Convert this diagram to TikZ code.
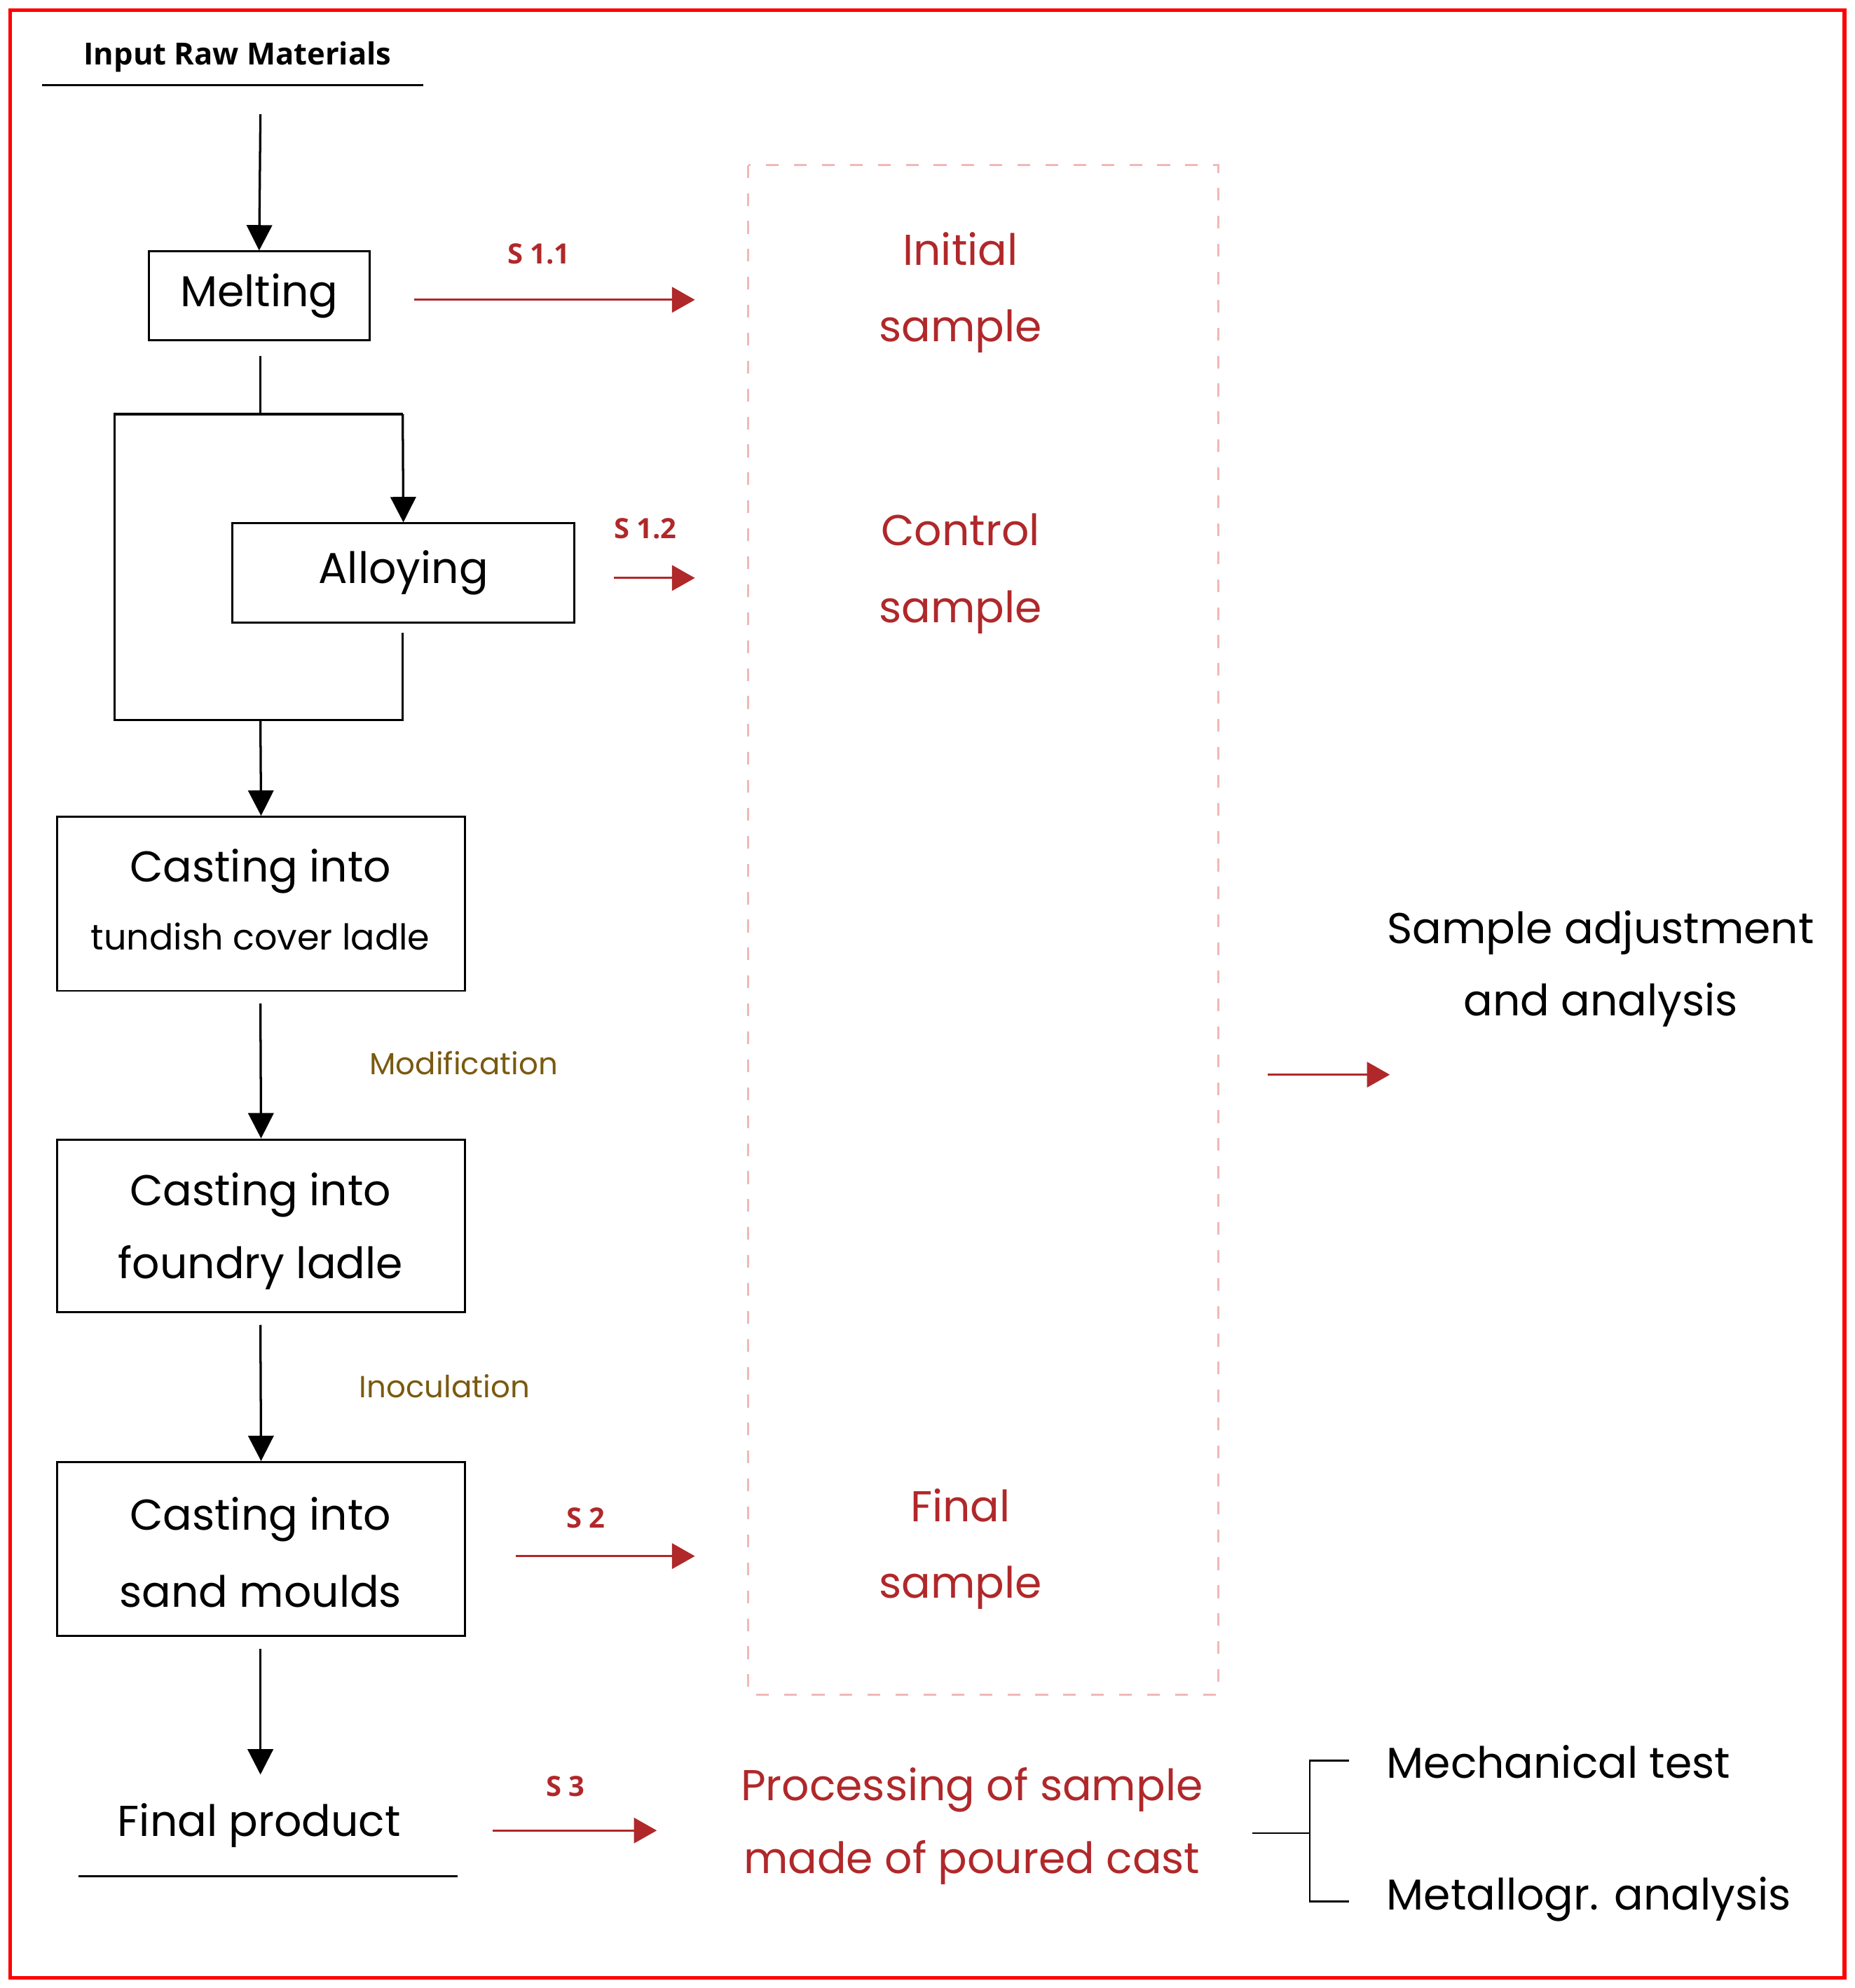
\documentclass[tikz,border=0pt]{standalone}
\usepackage{fontspec}
\setmainfont{Poppins}
\newfontfamily\lab{Open Sans}
\usetikzlibrary{arrows.meta}
\definecolor{dred}{HTML}{B0282A}
\definecolor{olive}{HTML}{7A5A10}
\definecolor{pinkd}{HTML}{F0B8B8}
\begin{document}
\begin{tikzpicture}[x=1pt,y=-1pt,
  box/.style={draw,line width=1.6pt,inner sep=0},
  big/.style={font=\fontsize{34}{40}\selectfont},
  redt/.style={big,text=dred},
  blk/.style={line width=1.8pt,-{Triangle[width=20pt,length=20pt]}},
  rar/.style={draw=dred,line width=1.5pt,-{Triangle[width=20pt,length=18pt]},dred},
  slab/.style={font=\lab\bfseries\fontsize{22}{26}\selectfont,text=dred},
  olab/.style={font=\fontsize{24}{28}\selectfont,text=olive}]
\useasboundingbox (0,0) rectangle (1460,1565);
\draw[red,line width=3pt] (8,8) rectangle (1452,1557);
\node[font=\lab\bfseries\fontsize{24}{28}\selectfont] (irm) at (187,45) {Input Raw Materials};
\draw[line width=1.5pt] (33,67) -- (333,67);
\coordinate (a0) at (205,90);
\node[box,minimum width=174pt,minimum height=70pt,big] (melt) at (204,233) {Melting};
\draw[blk] (a0) -- (melt.north);
\node[box,minimum width=269pt,minimum height=78pt,big] (alloy) at (317.5,451) {Alloying};
\coordinate (m1) at (205,326); \coordinate (m2) at (90,326); \coordinate (m3) at (317,326);
\coordinate (m4) at (90,567); \coordinate (m5) at (317,567); \coordinate (m6) at (205,567);
\coordinate (m7) at (317,498);
\draw[line width=1.8pt] (205,280) -- (m1);
\draw[line width=1.8pt] (m3) -- (m2) -- (m4) -- (m5) -- (m7);
\draw[blk] (m3) -- (alloy.north);
\node[box,minimum width=321pt,minimum height=137pt,align=center] (c1) at (205.5,711.5) {};
\node[big] at (205,686) {Casting into};
\node[font=\fontsize{28}{32}\selectfont] at (205,737) {tundish cover ladle};
\draw[blk] (m6) -- (c1.north);
\node[box,minimum width=321pt,minimum height=136pt] (c2) at (205.5,965) {};
\node[big] at (205,941) {Casting into};
\node[big] at (205,998) {foundry ladle};
\draw[blk] (205,790) -- (c2.north);
\node[olab] (mod) at (365,837) {Modification};
\node[box,minimum width=321pt,minimum height=137pt] (c3) at (205.5,1219.5) {};
\node[big] at (205,1196) {Casting into};
\node[big] at (205,1253) {sand moulds};
\draw[blk] (205,1043) -- (c3.north);
\node[olab] (ino) at (350,1091) {Inoculation};
\node[big] (fp) at (204,1437) {Final product};
\draw[blk] (205,1298) -- (205,1397);
\draw[line width=1.5pt] (62,1477) -- (360,1477);
\draw[dashed,pinkd,line width=1.5pt,dash pattern=on 10pt off 12pt] (589,130) rectangle (959,1334);
\node[redt] at (756,196) {Initial};
\node[redt] at (756,261) {sample};
\node[redt] at (756,417) {Control};
\node[redt] at (756,482) {sample};
\node[redt] at (756,1185) {Final};
\node[redt] at (756,1250) {sample};
\node[redt] at (765,1409) {Processing of sample};
\node[redt] at (765,1466) {made of poured cast};
\coordinate (r1a) at (326,236); \coordinate (r1b) at (547,236);
\draw[rar] (r1a) -- (r1b); \node[slab] at (424,200) {S 1.1};
\coordinate (r2a) at (483,455); \coordinate (r2b) at (547,455);
\draw[rar] (r2a) -- (r2b); \node[slab] at (508,416) {S 1.2};
\coordinate (r3a) at (406,1225); \coordinate (r3b) at (547,1225);
\draw[rar] (r3a) -- (r3b); \node[slab] at (461,1195) {S 2};
\coordinate (r4a) at (388,1441); \coordinate (r4b) at (517,1441);
\draw[rar] (r4a) -- (r4b); \node[slab] at (445,1406) {S 3};
\coordinate (r5a) at (998,846); \coordinate (r5b) at (1094,846);
\draw[rar] (r5a) -- (r5b);
\node[big] at (1260,734) {Sample adjustment};
\node[big] at (1260,791) {and analysis};
\draw[line width=1.5pt] (986,1443) -- (1031,1443);
\draw[line width=1.5pt] (1062,1386) -- (1031,1386) -- (1031,1497) -- (1062,1497);
\node[big,anchor=west] at (1088,1387) {Mechanical test};
\node[big,anchor=west] at (1088,1495) {Metallogr. analysis};
\end{tikzpicture}
\end{document}
